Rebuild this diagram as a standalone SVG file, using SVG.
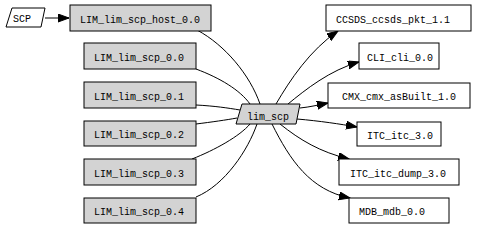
<svg xmlns="http://www.w3.org/2000/svg" width="477" height="228" viewBox="0 0 477 228">
<style>
.g rect, .g polygon { fill: #d3d3d3; stroke: #000; stroke-width: 1; }
.w rect { fill: #fff; stroke: #000; stroke-width: 1; }
.p polygon { fill: #fff; stroke: #000; stroke-width: 1; }
text { font-family: "Liberation Mono", "DejaVu Sans Mono", monospace; font-size: 10px; fill: #000; text-anchor: middle; }
#edges path { fill: none; stroke: #000; stroke-width: 1; }
</style>
<defs>
<marker id="ah" markerUnits="userSpaceOnUse" markerWidth="12" markerHeight="10" refX="11" refY="4" orient="auto">
<path d="M0,0 L11,4 L0,8 Z" fill="#000" stroke="#000" stroke-width="1"/>
</marker>
</defs>
<rect width="477" height="228" fill="#fff"/>
<g id="edges">
<path d="M45,18 L69,18" marker-end="url(#ah)"/>
<path d="M197,30 C225,45 250,75 260,104"/>
<path d="M196,69 C220,78 240,90 250,104"/>
<path d="M196,105 C215,106 228,108 240,110"/>
<path d="M196,124 C212,122 226,120 237,118"/>
<path d="M192,159 C215,150 240,136 250,124"/>
<path d="M196,197 C225,185 248,150 257,124"/>
<path d="M276,104 C290,80 310,50 338,31" marker-end="url(#ah)"/>
<path d="M288,104 C305,90 330,70 359,62" marker-end="url(#ah)"/>
<path d="M300,108 C310,107 318,105 328,103" marker-end="url(#ah)"/>
<path d="M297,119 C320,121 340,124 357,127" marker-end="url(#ah)"/>
<path d="M280,124 C300,140 320,152 349,159" marker-end="url(#ah)"/>
<path d="M272,124 C290,160 310,190 350,198" marker-end="url(#ah)"/>
</g>
<g id="SCP" class="p"><polygon points="12,8 45,8 41,27 6,27"/><text x="22" y="22">SCP</text></g>
<g id="LIM_lim_scp_host_0.0" class="g"><rect x="70" y="5" width="141" height="26"/><text x="140" y="23">LIM_lim_scp_host_0.0</text></g>
<g id="LIM_lim_scp_0.0" class="g"><rect x="84" y="43" width="112" height="26"/><text x="139" y="61">LIM_lim_scp_0.0</text></g>
<g id="LIM_lim_scp_0.1" class="g"><rect x="84" y="82" width="112" height="26"/><text x="139" y="100">LIM_lim_scp_0.1</text></g>
<g id="LIM_lim_scp_0.2" class="g"><rect x="84" y="121" width="112" height="25"/><text x="139" y="138">LIM_lim_scp_0.2</text></g>
<g id="LIM_lim_scp_0.3" class="g"><rect x="84" y="159" width="112" height="26"/><text x="139" y="177">LIM_lim_scp_0.3</text></g>
<g id="LIM_lim_scp_0.4" class="g"><rect x="84" y="198" width="112" height="25"/><text x="139" y="215">LIM_lim_scp_0.4</text></g>
<g id="lim_scp" class="g"><polygon points="242,104 300,104 296,124 236,124"/><text x="268" y="120">lim_scp</text></g>
<g id="CCSDS_ccsds_pkt_1.1" class="w"><rect x="326" y="5" width="145" height="26"/><text x="393" y="23">CCSDS_ccsds_pkt_1.1</text></g>
<g id="CLI_cli_0.0" class="w"><rect x="359" y="43" width="80" height="26"/><text x="400" y="61">CLI_cli_0.0</text></g>
<g id="CMX_cmx_asBuilt_1.0" class="w"><rect x="328" y="83" width="142" height="25"/><text x="399" y="100">CMX_cmx_asBuilt_1.0</text></g>
<g id="ITC_itc_3.0" class="w"><rect x="357" y="122" width="84" height="24"/><text x="400" y="139">ITC_itc_3.0</text></g>
<g id="ITC_itc_dump_3.0" class="w"><rect x="339" y="159" width="120" height="26"/><text x="398" y="177">ITC_itc_dump_3.0</text></g>
<g id="MDB_mdb_0.0" class="w"><rect x="349" y="198" width="100" height="25"/><text x="392" y="215">MDB_mdb_0.0</text></g>
</svg>
